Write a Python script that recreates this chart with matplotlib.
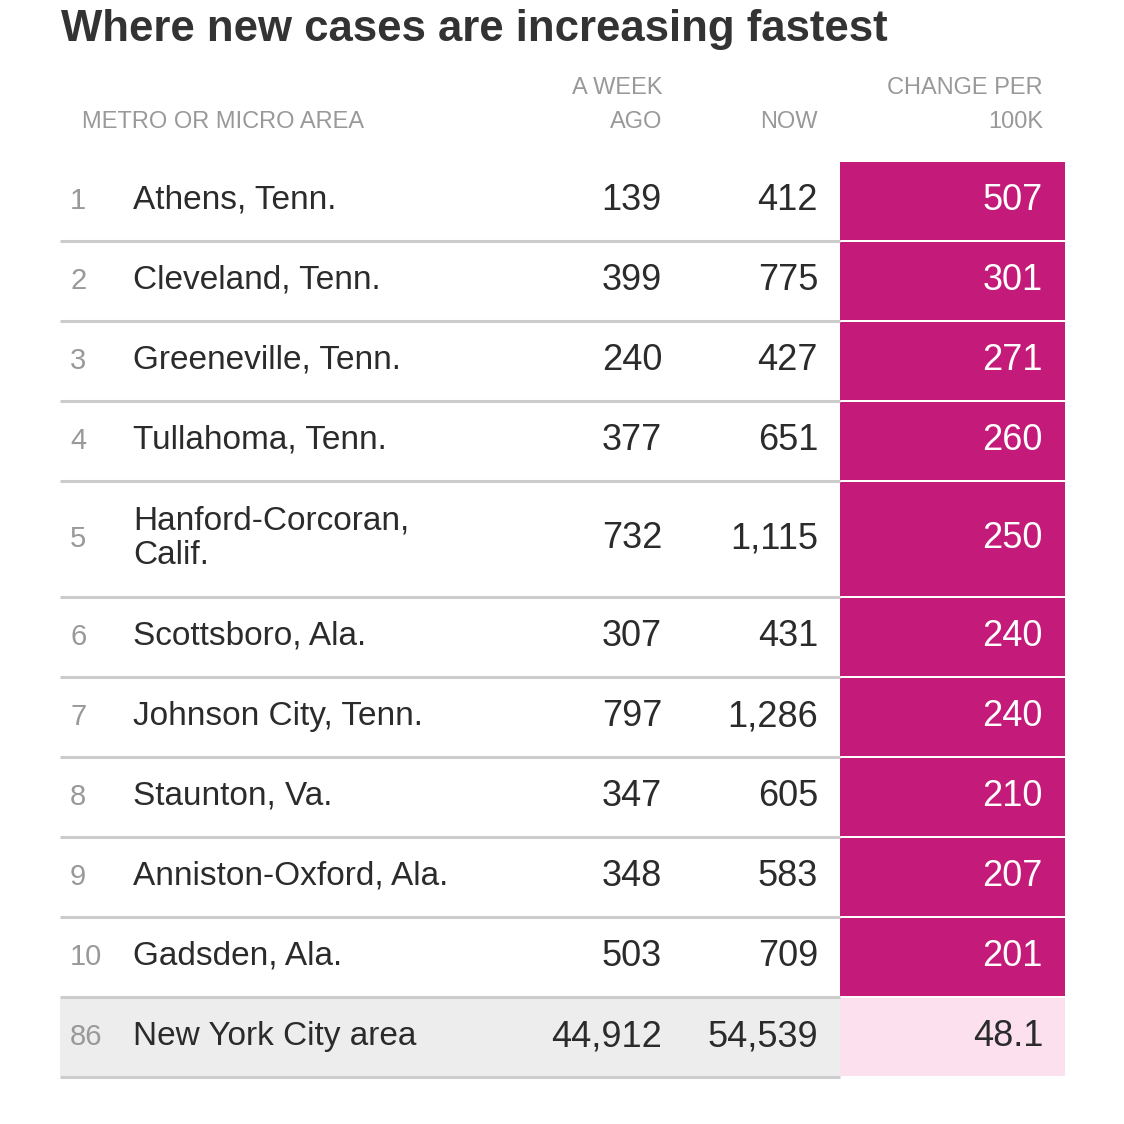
import matplotlib
matplotlib.use("Agg")
import matplotlib.pyplot as plt
import matplotlib.patches as patches

# adatok a kepről
ranks = [1, 2, 3, 4, 5, 6, 7, 8, 9, 10, 86]
areas = ["Athens, Tenn.", "Cleveland, Tenn.", "Greeneville, Tenn.", "Tullahoma, Tenn.",
         "Hanford-Corcoran,\nCalif.", "Scottsboro, Ala.", "Johnson City, Tenn.",
         "Staunton, Va.", "Anniston-Oxford, Ala.", "Gadsden, Ala.", "New York City area"]
week_ago = [139, 399, 240, 377, 732, 307, 797, 347, 348, 503, 44912]
now = [412, 775, 427, 651, 1115, 431, 1286, 605, 583, 709, 54539]
change = [507, 301, 271, 260, 250, 240, 240, 210, 207, 201, 48.1]
highlight = [False] * 10 + [True]

title = "Where new cases are increasing fastest"
headers = ["METRO OR MICRO AREA", "A WEEK\nAGO", "NOW", "CHANGE PER\n100K"]

PINK = "#c41a7a"
LIGHT_PINK = "#fce0ee"
GRAY_BG = "#ededed"
LINE = "#cccccc"
TXT = "#2b2b2b"
MUTED = "#999999"
FONT = ["Liberation Sans", "DejaVu Sans"]

W = 1124
fig = plt.figure(figsize=(W / 100, W / 100), dpi=100)
ax = fig.add_axes([0, 0, 1, 1])
ax.set_xlim(0, W)
ax.set_ylim(W, 0)
ax.axis("off")

# oszlopok helye (pixel)
x_left, x_rank, x_name = 60, 70, 133
x_week, x_now, x_chg = 662, 818, 1043
pink_l, pink_r = 840, 1065

ax.text(61, 29, title, fontsize=31.5, fontweight="bold", color="#333333",
        ha="left", va="center", family=FONT)

hdr = dict(fontsize=17, color=MUTED, va="center", family=FONT, linespacing=1.65)
ax.text(82, 122, headers[0], ha="left", **hdr)
ax.text(x_week, 105, headers[1], ha="right", **hdr)
ax.text(x_now, 122, headers[2], ha="right", **hdr)
ax.text(x_chg, 105, headers[3], ha="right", **hdr)

y = 162
for i in range(len(ranks)):
    nlines = areas[i].count("\n") + 1
    h = 80 + 36 * (nlines - 1)
    top, bot = y, y + h - 2
    mid = (top + bot) / 2

    if highlight[i]:
        ax.add_patch(patches.Rectangle((x_left, top), pink_l - x_left, bot - top,
                                       facecolor=GRAY_BG, edgecolor="none"))
        cell_col, num_col = LIGHT_PINK, TXT
    else:
        cell_col, num_col = PINK, "white"
    ax.add_patch(patches.Rectangle((pink_l, top), pink_r - pink_l, bot - top,
                                   facecolor=cell_col, edgecolor="none"))
    ax.plot([x_left, pink_l], [bot + 1, bot + 1], color=LINE, lw=2.2, solid_capstyle="butt")

    ax.text(x_rank, mid, str(ranks[i]), fontsize=21, color=MUTED, ha="left", va="center", family=FONT)
    ax.text(x_name, mid - 1, areas[i], fontsize=24, color=TXT, ha="left", va="center",
            family=FONT, linespacing=1.15)
    num = dict(fontsize=26, ha="right", va="center", family=FONT)
    ax.text(x_week, mid, f"{week_ago[i]:,}", color=TXT, **num)
    ax.text(x_now, mid, f"{now[i]:,}", color=TXT, **num)
    ax.text(x_chg, mid, f"{change[i]:g}", color=num_col, **num)

    y += h

fig.savefig("out.png", dpi=100, facecolor="white")
